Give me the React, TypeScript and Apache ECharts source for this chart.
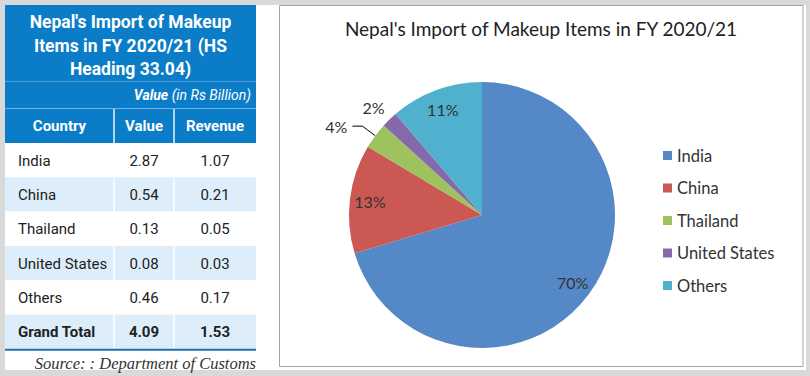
import React, { useEffect, useRef } from 'react';
import * as echarts from 'echarts';

const countries = ['India', 'China', 'Thailand', 'United States', 'Others'];
const importValues = [2.87, 0.54, 0.13, 0.08, 0.46];
const revenues = [1.07, 0.21, 0.05, 0.03, 0.17];
const totalLabel = 'Grand Total';
const totalValue = 4.09;
const totalRevenue = 1.53;
const pieShareLabels = ['70%', '13%', '4%', '2%', '11%'];
const tableTitleLines = ["Nepal's Import of Makeup", 'Items in FY 2020/21 (HS', 'Heading 33.04)'];
const tableHeaders = ['Country', 'Value', 'Revenue'];
const unitBold = 'Value';
const unitRest = '(in Rs Billion)';
const chartTitle = "Nepal's Import of Makeup Items in FY 2020/21";
const sourceText = 'Source: : Department of Customs';
const pieColors = ['#5588c6', '#cc5854', '#9ec25d', '#8669aa', '#4fb1cd'];

const BLUE = '#0b7cc7';
const LIGHT = '#ddeefa';

function txt(text: string, x: number, y: number, font: string, fill: string, align = 'left', extra: any = {}) {
  return {
    type: 'text',
    silent: true,
    style: {
      text,
      x,
      y,
      font,
      fill,
      align,
      textAlign: align,
      verticalAlign: 'middle',
      textVerticalAlign: 'middle',
      ...extra,
    },
  };
}

function buildGraphics() {
  const els: any[] = [];
  // background
  els.push({ type: 'rect', silent: true, z: -10, shape: { x: 0, y: 0, width: 810, height: 376 }, style: { fill: '#d9d9d9' } });
  els.push({ type: 'rect', silent: true, z: -9, shape: { x: 5, y: 5, width: 801, height: 365 }, style: { fill: '#ffffff' } });
  // chart panel border
  els.push({ type: 'rect', silent: true, z: -8, shape: { x: 279.5, y: 5.5, width: 523.5, height: 361 }, style: { fill: 'none', stroke: '#a3a3a3', lineWidth: 1 } });

  const x0 = 5, x1 = 256, c1 = 114, c2 = 174;
  // title block + value row + header
  els.push({ type: 'rect', silent: true, z: -8, shape: { x: x0, y: 5, width: x1 - x0, height: 138 }, style: { fill: BLUE } });
  els.push({ type: 'line', silent: true, z: -7, shape: { x1: x0, y1: 81.5, x2: x1, y2: 81.5 }, style: { stroke: '#4a9fd8', lineWidth: 1 } });
  els.push({ type: 'line', silent: true, z: -7, shape: { x1: x0, y1: 108.5, x2: x1, y2: 108.5 }, style: { stroke: '#6fb3e2', lineWidth: 1 } });
  const titleYs = [22, 46, 69];
  tableTitleLines.forEach((t, i) => {
    els.push(txt(t, (x0 + x1) / 2, titleYs[i], 'bold 17.5px Roboto', '#ffffff', 'center'));
  });
  els.push({
    type: 'text',
    silent: true,
    style: {
      text: '{b|' + unitBold + '} {i|' + unitRest + '}',
      x: 251,
      y: 95,
      align: 'right',
      textAlign: 'right',
      verticalAlign: 'middle',
      textVerticalAlign: 'middle',
      fill: '#ffffff',
      font: 'italic 14px Roboto',
      rich: {
        b: { font: 'italic bold 14px Roboto', fill: '#ffffff' },
        i: { font: 'italic 14px Roboto', fill: '#ffffff' },
      },
    },
  });
  const headY = 126;
  els.push(txt(tableHeaders[0], (x0 + c1) / 2, headY, 'bold 15px Roboto', '#ffffff', 'center'));
  els.push(txt(tableHeaders[1], (c1 + c2) / 2, headY, 'bold 15px Roboto', '#ffffff', 'center'));
  els.push(txt(tableHeaders[2], (c2 + x1) / 2, headY, 'bold 15px Roboto', '#ffffff', 'center'));

  const rowTop = 143, rowH = 34.3;
  const rows = countries.map((c, i) => [c, importValues[i].toFixed(2), revenues[i].toFixed(2)]);
  rows.push([totalLabel, totalValue.toFixed(2), totalRevenue.toFixed(2)]);
  rows.forEach((r, i) => {
    const y = rowTop + i * rowH;
    els.push({ type: 'rect', silent: true, z: -8, shape: { x: x0, y, width: x1 - x0, height: rowH }, style: { fill: i % 2 === 1 ? LIGHT : '#ffffff' } });
    const cy = y + rowH / 2 + 0.5;
    const bold = i === rows.length - 1;
    const f = (bold ? 'bold ' : '') + '15px Roboto';
    els.push(txt(r[0], 18, cy, f, '#222222', 'left'));
    els.push(txt(r[1], (c1 + c2) / 2, cy, f, '#222222', 'center'));
    els.push(txt(r[2], (c2 + x1) / 2, cy, f, '#222222', 'center'));
  });
  const tableBottom = rowTop + rows.length * rowH;
  [c1, c2].forEach((cx) => {
    els.push({ type: 'line', silent: true, z: -7, shape: { x1: cx, y1: 109, x2: cx, y2: tableBottom }, style: { stroke: 'rgba(255,255,255,0.9)', lineWidth: 1.5 } });
  });
  els.push({ type: 'line', silent: true, z: -6, shape: { x1: x0, y1: tableBottom + 1, x2: x1, y2: tableBottom + 1 }, style: { stroke: '#1f70b0', lineWidth: 2 } });
  els.push(txt(sourceText, 256, 363, 'italic 16.5px "Liberation Serif"', '#333333', 'right'));

  // chart title
  els.push(txt(chartTitle, 541, 28, '19px Lato', '#222222', 'center'));
  return els;
}

export default function App() {
  const ref = useRef<HTMLDivElement>(null);
  useEffect(() => {
    if (!ref.current) return;
    const chart = echarts.init(ref.current, undefined, { renderer: 'svg' });
    const baseData = countries.map((name, i) => ({ name, value: importValues[i], itemStyle: { color: pieColors[i] } }));
    const labelData = countries.map((name, i) => {
      const item: any = { name, value: importValues[i] };
      if (i === 2) {
        item.label = { position: 'outside' };
        item.labelLine = { show: true, length: 16, length2: 10, lineStyle: { color: '#000000', width: 1 } };
      } else if (i === 3) {
        item.label = { position: 'outside' };
        item.labelLine = { show: false, length: 17, length2: 0 };
      }
      return item;
    });
    chart.setOption({
      animation: false,
      graphic: { elements: buildGraphics() },
      legend: {
        data: countries,
        orient: 'vertical',
        left: 663,
        top: 147,
        padding: 0,
        itemWidth: 9,
        itemHeight: 9,
        itemGap: 15.5,
        icon: 'rect',
        selectedMode: false,
        textStyle: { fontFamily: 'Lato', fontSize: 16.5, lineHeight: 17, color: '#333333' },
      },
      series: [
        {
          type: 'pie',
          center: [482, 215],
          radius: 133,
          startAngle: 90,
          clockwise: true,
          silent: true,
          avoidLabelOverlap: false,
          label: { show: false },
          labelLine: { show: false },
          emphasis: { disabled: true },
          data: baseData,
        },
        {
          type: 'pie',
          center: [482, 215],
          radius: [87, 133],
          startAngle: 90,
          clockwise: true,
          silent: true,
          avoidLabelOverlap: false,
          itemStyle: { color: 'rgba(0,0,0,0)' },
          emphasis: { disabled: true },
          label: {
            show: true,
            position: 'inside',
            formatter: (p: any) => pieShareLabels[p.dataIndex],
            color: '#333333',
            fontFamily: 'Lato',
            fontSize: 16,
          },
          labelLine: { show: false },
          labelLayout: (p: any) => (p.dataIndex === 3 ? { dx: 12 } : {}),
          data: labelData,
        },
      ],
    });
    return () => chart.dispose();
  }, []);
  return <div ref={ref} style={{ position: 'absolute', left: 0, top: 0, width: 810, height: 376 }} />;
}
